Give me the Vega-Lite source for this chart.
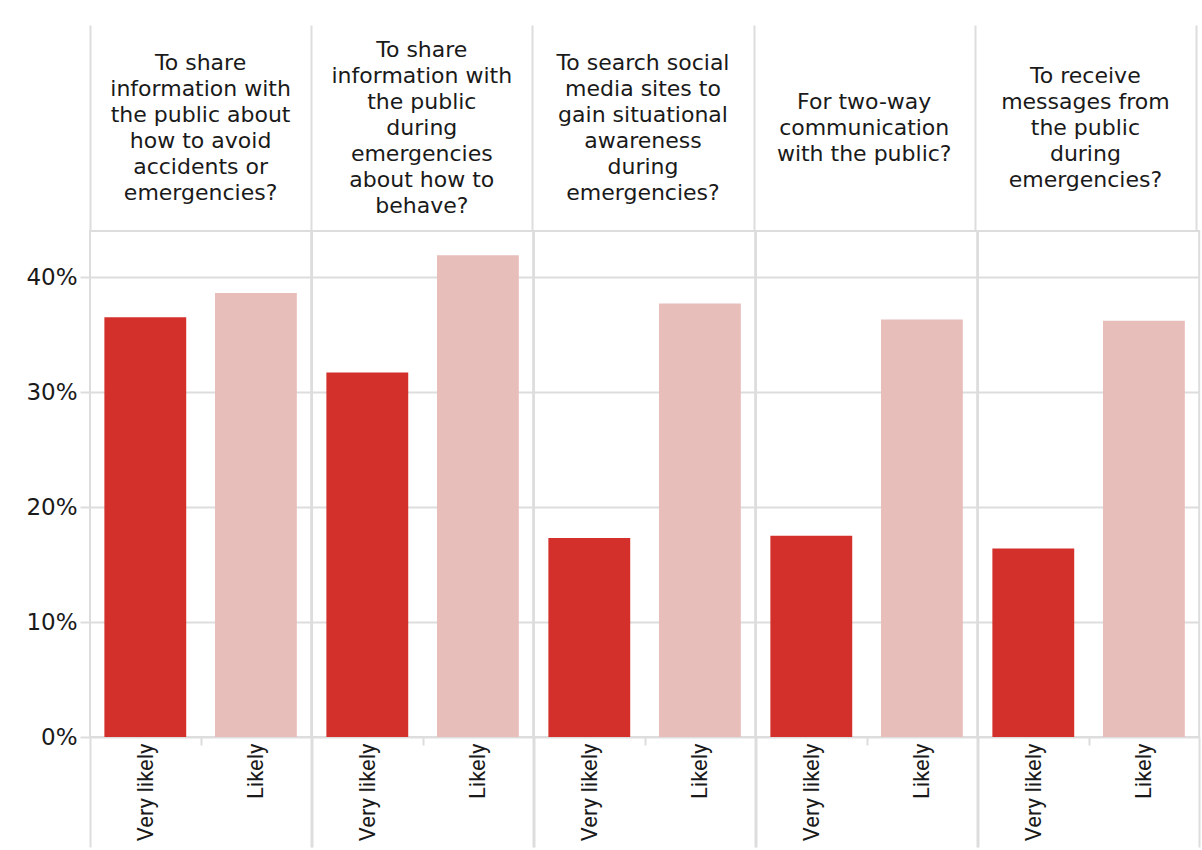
{
  "$schema": "https://vega.github.io/schema/vega-lite/v6.json",
  "padding": {"left": 25, "top": 25, "right": 4, "bottom": 0},
  "datasets": {
    "questions": [
      {"order": 1, "question": "To share|information with|the public about|how to avoid|accidents or|emergencies?"},
      {"order": 2, "question": "To share|information with|the public|during|emergencies|about how to|behave?"},
      {"order": 3, "question": "To search social|media sites to|gain situational|awareness|during|emergencies?"},
      {"order": 4, "question": "For two-way|communication|with the public?"},
      {"order": 5, "question": "To receive|messages from|the public|during|emergencies?"}
    ],
    "answers": [
      {"order": 1, "likelihood": "Very likely", "share": 0.365},
      {"order": 1, "likelihood": "Likely", "share": 0.386},
      {"order": 2, "likelihood": "Very likely", "share": 0.317},
      {"order": 2, "likelihood": "Likely", "share": 0.419},
      {"order": 3, "likelihood": "Very likely", "share": 0.173},
      {"order": 3, "likelihood": "Likely", "share": 0.377},
      {"order": 4, "likelihood": "Very likely", "share": 0.175},
      {"order": 4, "likelihood": "Likely", "share": 0.363},
      {"order": 5, "likelihood": "Very likely", "share": 0.164},
      {"order": 5, "likelihood": "Likely", "share": 0.362}
    ]
  },
  "spacing": 0,
  "bounds": "flush",
  "vconcat": [
    {
      "data": {"name": "questions"},
      "transform": [{"calculate": "length(split(datum.question, '|'))", "as": "lines"}],
      "width": 1106,
      "height": 206,
      "view": {"stroke": null},
      "mark": {"type": "text", "lineBreak": "|", "font": "DejaVu Sans", "fontSize": 22, "lineHeight": 26, "color": "#1a1a1a", "baseline": "middle"},
      "encoding": {
        "x": {
          "field": "question", "type": "nominal", "sort": {"field": "order"},
          "scale": {"paddingInner": 0, "paddingOuter": 0},
          "axis": {"orient": "top", "title": null, "labels": false, "ticks": false, "domain": false, "grid": true, "tickBand": "extent", "gridColor": "#dddddd", "gridWidth": 2}
        },
        "y": {"field": "lines", "type": "quantitative", "scale": {"domain": [-6.92, 8.92], "nice": false, "zero": false}, "axis": null},
        "text": {"field": "question"}
      }
    },
    {
      "data": {"name": "answers"},
      "spacing": {"column": 0, "row": 0},
      "bounds": "flush",
      "facet": {
        "column": {"field": "order", "type": "ordinal", "header": {"labels": false, "title": null}}
      },
      "spec": {
        "width": 221.2,
        "height": 506,
        "mark": {"type": "bar", "width": {"band": 0.74}},
        "encoding": {
          "x": {
            "field": "likelihood", "type": "nominal", "sort": ["Very likely", "Likely"],
            "scale": {"paddingInner": 0, "paddingOuter": 0},
            "axis": {
              "title": null, "labelAngle": -90, "labelFont": "Roboto", "labelFontSize": 22, "labelColor": "#1a1a1a",
              "labelPadding": {"condition": {"test": "datum.value === 'Very likely'", "value": -2}, "value": -104},
              "domain": false, "tickBand": "extent", "tickColor": "#dddddd", "tickWidth": 2,
              "tickSize": {"condition": {"test": "datum.value === 'Very likely' && !datum.extra", "value": 8}, "value": 110}
            }
          },
          "y": {
            "field": "share", "type": "quantitative",
            "scale": {"domain": [0, 0.44], "nice": false},
            "axis": {
              "title": null, "format": ".0%", "values": [0, 0.1, 0.2, 0.3, 0.4], "domain": false,
              "labelFont": "DejaVu Sans", "labelFontSize": 23, "labelColor": "#1a1a1a", "labelPadding": 3,
              "tickColor": "#dddddd", "tickWidth": 2, "tickSize": 10, "gridColor": "#dddddd", "gridWidth": 2
            }
          },
          "color": {
            "field": "likelihood", "type": "nominal", "legend": null,
            "scale": {"domain": ["Very likely", "Likely"], "range": ["#d4302b", "#e8bebb"]}
          }
        }
      }
    }
  ],
  "config": {
    "view": {"stroke": "#dddddd", "strokeWidth": 2},
    "facet": {"spacing": 0},
    "axisX": {"grid": false}
  }
}
